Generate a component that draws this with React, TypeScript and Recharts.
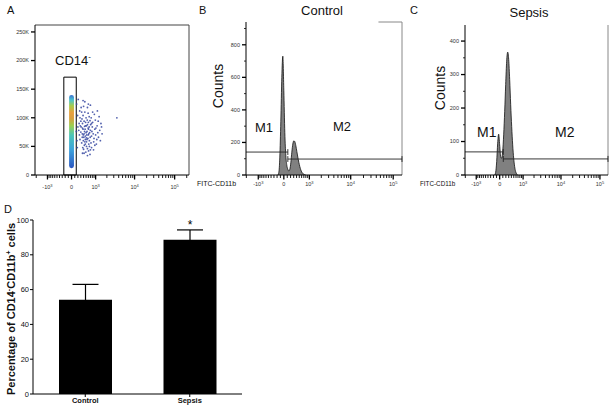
import React from 'react';
import {
  ScatterChart, Scatter, AreaChart, Area, BarChart, Bar, ErrorBar, LabelList,
  XAxis, YAxis, ReferenceArea, ReferenceLine,
} from 'recharts';

const FONT = '"Liberation Sans", Arial, Helvetica, sans-serif';

// arcsinh display scale, close to the biexponential axis FlowJo draws
const COFACTOR = 535;
const toDisplay = (v: number) => Math.asinh(v / COFACTOR);

// ---------- panel A: SSC-A vs CD14 ----------
const sscTicks = [0, 50000, 100000, 150000, 200000, 250000];
const cd14Range = [-2150, 228000];
// [CD14 intensity, SSC-A (K)] for the CD14+ cloud right of the gate
const cd14Cloud: [number, number][] = [
  [420, 72], [510, 65], [380, 80], [600, 70], [450, 58], [350, 66], [700, 78], [560, 88],
  [300, 75], [480, 92], [650, 60], [520, 50], [400, 45], [760, 68], [330, 56], [590, 82],
  [440, 85], [680, 95], [270, 62], [540, 76], [620, 54], [360, 90], [800, 84], [470, 68],
  [390, 60], [730, 56], [580, 64], [310, 84], [660, 74], [500, 100], [430, 52], [850, 72],
  [250, 70], [550, 96], [370, 48], [710, 88], [460, 80], [610, 42], [340, 98], [900, 64],
  [520, 58], [280, 86], [640, 102], [410, 66], [760, 48], [490, 40], [590, 108], [230, 78],
  [820, 92], [450, 110], [380, 104], [690, 66], [560, 46], [300, 94], [950, 80], [420, 38],
  [640, 84], [520, 86], [350, 72], [780, 76], [1000, 70], [270, 100], [600, 92], [470, 62],
  [700, 44], [330, 110], [560, 118], [880, 58], [400, 120], [1100, 86], [240, 90], [650, 50],
  [500, 74], [740, 100], [360, 38], [1200, 66], [450, 128], [310, 118], [820, 110], [560, 34],
  [1300, 78], [200, 84], [980, 96], [420, 94], [620, 72], [380, 130], [260, 112], [700, 122],
  [3600, 100], [1050, 54], [170, 60], [190, 104], [150, 76], [160, 124], [180, 48], [210, 132],
  [540, 62], [470, 54], [610, 80], [390, 70], [530, 70], [440, 76], [360, 82], [480, 86],
  [1150, 74], [1400, 90], [1250, 102], [1080, 62], [1500, 72], [1180, 94], [920, 106], [1350, 60],
  [870, 44], [1020, 82], [760, 90], [680, 36], [950, 52], [1120, 112], [1450, 84], [600, 124],
];
// dense CD14- population (drawn as a density strip) and the gate around it
const cd14NegBand = { x: [-75, 75], y: [12000, 140000] };
const cd14Gate = { x: [-245, 147], y: [0, 171000] };

// ---------- panels B/C: FITC-CD11b histograms ----------
const fitcRange = [-2040, 161000];
const fitcMajor = [
  { v: -1000, base: '-10', exp: '3' },
  { v: 0, base: '0', exp: '' },
  { v: 1000, base: '10', exp: '3' },
  { v: 10000, base: '10', exp: '4' },
  { v: 100000, base: '10', exp: '5' },
];
const fitcMinor = [
  -2000, -900, -800, -700, -600, -500, -400, -300, -200, -100,
  100, 200, 300, 400, 500, 600, 700, 800, 900,
  2000, 3000, 4000, 5000, 6000, 7000, 8000, 9000,
  20000, 30000, 40000, 50000, 60000, 70000, 80000, 90000, 200000,
];

// [FITC intensity, counts]
const controlHist: [number, number][] = [
  [-177, 0], [-147, 15], [-117, 110], [-87, 330], [-58, 600], [-29, 730], [0, 520], [29, 260],
  [58, 120], [87, 60], [117, 35], [147, 25], [177, 35], [208, 75], [239, 140], [271, 190],
  [304, 210], [338, 205], [373, 180], [409, 145], [445, 110], [484, 78], [523, 52], [563, 32],
  [605, 18], [695, 5], [790, 0],
];
const sepsisHist: [number, number][] = [
  [-161, 0], [-128, 8], [-95, 40], [-63, 95], [-32, 122], [0, 90], [32, 55], [63, 50],
  [95, 70], [128, 120], [161, 190], [194, 270], [228, 340], [263, 367], [299, 345], [335, 285],
  [373, 210], [412, 145], [453, 90], [495, 50], [538, 25], [584, 10], [679, 0],
];
const controlYTicks = [0, 100, 200, 300, 400, 500, 600, 700, 800, 900];
const sepsisYTicks = [0, 50, 100, 150, 200, 250, 300, 350, 400];
const controlGates = { m1: [-2040, 117], m2: [117, 161000], m1Count: 141, m2Count: 98 };
const sepsisGates = { m1: [-2040, 115], m2: [115, 161000], m1Count: 69, m2Count: 48 };

// ---------- panel D: bar chart ----------
const groups = ['Control', 'Sepsis'];
const pctMeans = [54.2, 88.7];
const pctSem = [8.8, 5.6];
const significance = ['', '*'];
const pctTicks = [0, 20, 40, 60, 80, 100];

const barData = groups.map((g, i) => ({ group: g, pct: pctMeans[i], sem: pctSem[i], mark: significance[i] }));
const cloudData = cd14Cloud.map(([v, k]) => ({ x: toDisplay(v), y: k * 1000 }));
const histData = (h: [number, number][]) => h.map(([v, c]) => ({ x: toDisplay(v), count: c }));
const domainOf = (r: number[]) => [toDisplay(r[0]), toDisplay(r[1])];
const fitcTicks = (r: number[]) =>
  [...fitcMajor.map((m) => m.v), ...fitcMinor]
    .filter((v) => v >= r[0] && v <= r[1])
    .sort((a, b) => a - b)
    .map(toDisplay);

const LogTick = (props: any) => {
  const { x, y, payload, labelDy } = props;
  const major = fitcMajor.find((m) => Math.abs(toDisplay(m.v) - payload.value) < 1e-6);
  return (
    <g>
      <line x1={x} x2={x} y1={y} y2={y + (major ? 4.5 : 3)} stroke="#000" strokeWidth={major ? 1.3 : 0.9} />
      {major && (
        <text x={x} y={y + labelDy} textAnchor="middle" fontSize={5.5} fill="#333" fontFamily={FONT}>
          {major.base}
          {major.exp && <tspan dy={-2.5} fontSize={4}>{major.exp}</tspan>}
        </text>
      )}
    </g>
  );
};

const CountTick = (props: any) => {
  const { x, y, payload, labelFor } = props;
  const label = labelFor(payload.value);
  return (
    <g>
      <line x1={x - (label ? 4 : 2)} x2={x} y1={y} y2={y} stroke="#000" strokeWidth={label ? 1.3 : 0.8} />
      {label && (
        <text x={x - 6} y={y} dy="0.35em" textAnchor="end" fontSize={5.5} fill="#333" fontFamily={FONT}>
          {label}
        </text>
      )}
    </g>
  );
};

const Dot = (p: any) => <circle cx={p.cx} cy={p.cy} r={0.9} fill="#33449f" fillOpacity={0.85} />;

const Star = (props: any) => {
  const { x, y, width, height, value, index } = props;
  if (!value) return null;
  const row = barData[index];
  const top = y - (row.sem / row.pct) * height;
  return (
    <text x={x + width / 2} y={top - 1} textAnchor="middle" fontSize={12} fontFamily={FONT} fill="#000">
      {value}
    </text>
  );
};

function PanelA() {
  const dom = domainOf(cd14Range);
  return (
    <ScatterChart width={200} height={195} margin={{ top: 25, right: 11, bottom: 0, left: 0 }}>
      <defs>
        <linearGradient id="cd14Density" x1="0" y1="0" x2="0" y2="1">
          <stop offset="0%" stopColor="#3a6fd0" />
          <stop offset="7%" stopColor="#4cc4d0" />
          <stop offset="15%" stopColor="#a8cc48" />
          <stop offset="24%" stopColor="#e8a040" />
          <stop offset="32%" stopColor="#d9a040" />
          <stop offset="42%" stopColor="#9ccf50" />
          <stop offset="55%" stopColor="#4cc6b8" />
          <stop offset="75%" stopColor="#3ca2dc" />
          <stop offset="100%" stopColor="#2a55c0" />
        </linearGradient>
      </defs>
      <XAxis
        type="number" dataKey="x" domain={dom} ticks={fitcTicks(cd14Range)} interval={0} allowDataOverflow
        height={20} tickSize={0} tickMargin={0} tickLine={false} axisLine={{ stroke: '#000' }}
        tick={<LogTick labelDy={14} />}
      />
      <YAxis
        type="number" dataKey="y" domain={[0, 262144]} ticks={sscTicks} interval={0} allowDataOverflow
        width={35} tickSize={0} tickMargin={0} tickLine={false} axisLine={{ stroke: '#000' }}
        tick={<CountTick labelFor={(v: number) => (v === 0 ? '0' : `${v / 1000}K`)} />}
      />
      <ReferenceLine y={262144} stroke="#444" />
      <ReferenceLine x={dom[1]} stroke="#444" />
      <ReferenceArea
        x1={toDisplay(cd14NegBand.x[0])} x2={toDisplay(cd14NegBand.x[1])}
        y1={cd14NegBand.y[0]} y2={cd14NegBand.y[1]}
        fill="url(#cd14Density)" fillOpacity={1} stroke="none" radius={3}
      />
      <Scatter data={cloudData} isAnimationActive={false} shape={Dot} />
      <ReferenceArea
        x1={toDisplay(cd14Gate.x[0])} x2={toDisplay(cd14Gate.x[1])}
        y1={cd14Gate.y[0]} y2={cd14Gate.y[1]}
        fill="none" fillOpacity={0} stroke="#000" strokeWidth={1}
      />
    </ScatterChart>
  );
}

function Histogram(props: {
  data: [number, number][]; width: number; yAxisWidth: number; top: number; right: number;
  yMax: number; yTicks: number[]; labelStep: number; gates: any; gateTick: number; frameTop?: number;
}) {
  const { data, width, yAxisWidth, top, right, yMax, yTicks, labelStep, gates, gateTick, frameTop } = props;
  const dom = domainOf(fitcRange);
  const g1 = gates.m1.map(toDisplay);
  const g2 = gates.m2.map(toDisplay);
  return (
    <AreaChart width={width} height={195} data={histData(data)} margin={{ top, right, bottom: 0, left: 0 }}>
      <XAxis
        type="number" dataKey="x" domain={dom} ticks={fitcTicks(fitcRange)} interval={0} allowDataOverflow
        height={20} tickSize={0} tickMargin={0} tickLine={false} axisLine={{ stroke: '#000' }}
        tick={<LogTick labelDy={11} />}
      />
      <YAxis
        type="number" domain={[0, yMax]} ticks={yTicks} interval={0} allowDataOverflow
        width={yAxisWidth} tickSize={0} tickMargin={0} tickLine={false} axisLine={{ stroke: '#000' }}
        tick={<CountTick labelFor={(v: number) => (v % labelStep === 0 ? String(v) : null)} />}
      />
      <ReferenceLine x={dom[1]} stroke="#888" />
      {frameTop !== undefined && (
        <ReferenceLine segment={[{ x: toDisplay(frameTop), y: yMax }, { x: dom[1], y: yMax }]} stroke="#888" />
      )}
      <Area
        type="monotone" dataKey="count" fill="#808080" fillOpacity={1} stroke="#111" strokeWidth={0.8}
        isAnimationActive={false} dot={false} activeDot={false}
      />
      <ReferenceLine segment={[{ x: g1[0], y: gates.m1Count }, { x: g1[1], y: gates.m1Count }]} stroke="#222" strokeWidth={0.9} />
      <ReferenceLine segment={[{ x: g1[1], y: gates.m1Count - gateTick }, { x: g1[1], y: gates.m1Count + gateTick }]} stroke="#222" strokeWidth={0.9} />
      <ReferenceLine segment={[{ x: g2[0], y: gates.m2Count }, { x: g2[1], y: gates.m2Count }]} stroke="#222" strokeWidth={0.9} />
      <ReferenceLine segment={[{ x: g2[0], y: gates.m2Count - gateTick }, { x: g2[0], y: gates.m2Count + gateTick }]} stroke="#222" strokeWidth={0.9} />
      <ReferenceLine segment={[{ x: g2[1], y: gates.m2Count - gateTick }, { x: g2[1], y: gates.m2Count + gateTick }]} stroke="#222" strokeWidth={0.9} />
    </AreaChart>
  );
}

function PanelD() {
  return (
    <BarChart width={250} height={209} data={barData} margin={{ top: 20, right: 8, bottom: 0, left: 0 }}>
      <XAxis
        dataKey="group" height={15} tickSize={3} tickMargin={1} axisLine={{ stroke: '#000' }} tickLine={{ stroke: '#000' }}
        tick={{ fontSize: 7.5, fontWeight: 'bold', fill: '#111', fontFamily: FONT }}
      />
      <YAxis
        type="number" domain={[0, 100]} ticks={pctTicks} interval={0} width={33} tickSize={3} tickMargin={1}
        axisLine={{ stroke: '#000' }} tickLine={{ stroke: '#000' }}
        tick={{ fontSize: 7.5, fill: '#111', fontFamily: FONT }}
      />
      <Bar dataKey="pct" fill="#000" barSize={53} isAnimationActive={false}>
        <ErrorBar dataKey="sem" width={13} stroke="#000" strokeWidth={1.2} />
        <LabelList dataKey="mark" content={Star} />
      </Bar>
    </BarChart>
  );
}

export default function App() {
  return (
    <div style={{ position: 'absolute', left: 0, top: 0, width: 614, height: 409, background: '#fff', fontFamily: FONT }}>
      <div style={{ position: 'absolute', left: 0, top: 0 }}>
        <PanelA />
      </div>
      <div style={{ position: 'absolute', left: 196, top: 0 }}>
        <Histogram
          data={controlHist} width={210} yAxisWidth={50} top={22} right={4} yMax={940}
          yTicks={controlYTicks} labelStep={200} gates={controlGates} gateTick={18} frameTop={45000}
        />
      </div>
      <div style={{ position: 'absolute', left: 410, top: 0 }}>
        <Histogram
          data={sepsisHist} width={204} yAxisWidth={55} top={25} right={6} yMax={448}
          yTicks={sepsisYTicks} labelStep={100} gates={sepsisGates} gateTick={9}
        />
      </div>
      <div style={{ position: 'absolute', left: 0, top: 200 }}>
        <PanelD />
      </div>
      <svg
        width={614} height={409} fontFamily={FONT} fill="#111"
        style={{ position: 'absolute', left: 0, top: 0, pointerEvents: 'none' }}
      >
        <text x={7} y={14} fontSize={11}>A</text>
        <text x={199} y={14} fontSize={11}>B</text>
        <text x={410} y={14} fontSize={11}>C</text>
        <text x={4} y={213} fontSize={11}>D</text>
        <text x={322} y={15} fontSize={13} textAnchor="middle">Control</text>
        <text x={529} y={17} fontSize={13} textAnchor="middle">Sepsis</text>
        <text transform="translate(223,86) rotate(-90)" fontSize={14} textAnchor="middle">Counts</text>
        <text transform="translate(445,88) rotate(-90)" fontSize={14} textAnchor="middle">Counts</text>
        <text x={197} y={186} fontSize={7}>FITC-CD11b</text>
        <text x={420} y={186} fontSize={6.3}>FITC-CD11b</text>
        <text x={255} y={132} fontSize={13}>M1</text>
        <text x={333} y={131} fontSize={13}>M2</text>
        <text x={477} y={137} fontSize={14}>M1</text>
        <text x={555} y={137} fontSize={14}>M2</text>
        <text x={55} y={65} fontSize={13}>
          CD14<tspan dy={-6} fontSize={8}>-</tspan>
        </text>
        <text transform="translate(15,309) rotate(-90)" fontSize={11} fontWeight="bold" textAnchor="middle">
          Percentage of CD14<tspan dy={-4} fontSize={7}>-</tspan>
          <tspan dy={4}>CD11b</tspan>
          <tspan dy={-4} fontSize={7}>+</tspan>
          <tspan dy={4}> cells</tspan>
        </text>
      </svg>
    </div>
  );
}
